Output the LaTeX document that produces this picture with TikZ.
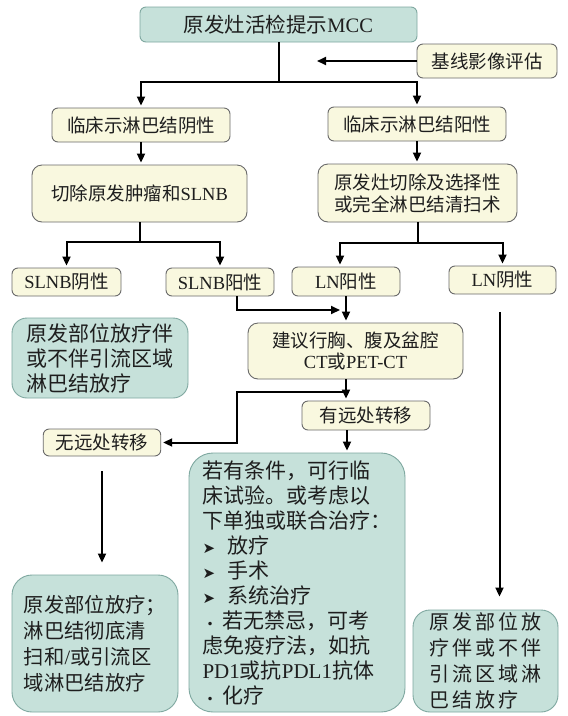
\documentclass[tikz,border=0pt]{standalone}
\usepackage{fontspec}
\usetikzlibrary{arrows.meta}
\IfFontExistsTF{FandolSong-Regular.otf}
  {\newfontfamily\cjk{FandolSong-Regular.otf}}
  {\newfontfamily\cjk{Noto Sans CJK SC}}
\newfontfamily\lt{Liberation Serif}
\newfontfamily\dv{DejaVu Sans}
\definecolor{tealfill}{HTML}{C6E1DA}
\definecolor{tealline}{HTML}{7FA8A0}
\definecolor{creamfill}{HTML}{F9F8DF}
\definecolor{creamline}{HTML}{6A6A6A}
\definecolor{txt}{HTML}{1E1E1E}
\tikzset{
  fs/.style 2 args={font=\cjk\fontsize{#1}{#2}\selectfont},
  cbox/.style={draw=creamline, fill=creamfill, line width=0.9pt, rounded corners=6pt,
    inner sep=0pt, text=txt, align=center, fs={18.5}{22}},
  tbox/.style={draw=tealline, fill=tealfill, line width=0.9pt, rounded corners=#1,
    inner sep=0pt, text=txt},
  wire/.style={line width=2pt, black},
  arr/.style={wire, -{Triangle[length=9pt,width=8pt]}, shorten >=2pt},
}
\newcommand\pointer{{\dv\fontsize{15}{15}\selectfont ➤}\hspace{12pt}}
\newcommand\dotmark{\hspace{4pt}{\dv\fontsize{12}{12}\selectfont •}\hspace{9pt}}
\begin{document}
\begin{tikzpicture}[x=1pt,y=-1pt]
\useasboundingbox (0,0) rectangle (568,716);
\fill[white] (0,0) rectangle (568,716);

% nodes
\node[tbox=6pt, fs={20.5}{24}, minimum width=277pt, minimum height=35pt] (top) at (278.5,24.5) {原发灶活检提示{\lt MCC}};
\node[cbox, minimum width=140pt, minimum height=34pt] (base) at (487,61) {基线影像评估};
\node[cbox, minimum width=178pt, minimum height=34pt] (neg) at (141,125) {临床示淋巴结阴性};
\node[cbox, minimum width=178pt, minimum height=34pt] (pos) at (417,124) {临床示淋巴结阳性};
\node[cbox, rounded corners=10pt, minimum width=215pt, minimum height=57pt] (cut1) at (139.5,193.5) {切除原发肿瘤和{\lt SLNB}};
\node[cbox, rounded corners=10pt, minimum width=199pt, minimum height=58pt] (cut2) at (417.5,193) {原发灶切除及选择性\\或完全淋巴结清扫术};
\node[cbox, minimum width=109pt, minimum height=28pt] (slnbneg) at (66.5,282) {{\lt SLNB}阴性};
\node[cbox, minimum width=108pt, minimum height=28pt] (slnbpos) at (220,282) {{\lt SLNB}阳性};
\node[cbox, minimum width=108pt, minimum height=29pt] (lnpos) at (346,281.5) {{\lt LN}阳性};
\node[cbox, minimum width=107pt, minimum height=28pt] (lnneg) at (502.5,280) {{\lt LN}阴性};
\node[tbox=15pt, fs={21}{25}, align=left, minimum width=176pt, minimum height=80pt] (rt1) at (100,358) {原发部位放疗伴\\或不伴引流区域\\淋巴结放疗};
\node[cbox, rounded corners=10pt, fs={18.5}{21}, minimum width=215pt, minimum height=56pt] (ct) at (355.5,351) {建议行胸、腹及盆腔\\{\lt CT}或{\lt PET-CT}};
\node[cbox, minimum width=128pt, minimum height=29pt] (yes) at (366,415.5) {有远处转移};
\node[cbox, minimum width=117.5pt, minimum height=27pt] (no) at (102,442.5) {无远处转移};
\node[tbox=24pt, fs={21}{25}, align=left, minimum width=216pt, minimum height=259pt] (mid) at (297,582.5) {若有条件，可行临\\床试验。或考虑以\\下单独或联合治疗：\\\pointer 放疗\\\pointer 手术\\\pointer 系统治疗\\\dotmark 若无禁忌，可考\\虑免疫疗法，如抗\\{\lt PD1}或抗{\lt PDL1}抗体\\\dotmark 化疗};
\node[tbox=20pt, fs={20.3}{26}, align=left, minimum width=166pt, minimum height=137pt] (botl) at (95,643.5) {原发部位放疗；\\淋巴结彻底清\\扫和{\lt /}或引流区\\域淋巴结放疗};
\node[tbox=17pt, font={\cjk\addfontfeature{LetterSpace=16}\fontsize{20}{26}\selectfont}, align=left, minimum width=145pt, minimum height=102pt] (botr) at (485.5,661) {原发部位放\\疗伴或不伴\\引流区域淋\\巴结放疗};

% connectors
\coordinate (j1) at (278.5,82);
\draw[wire] (top.south) -- (j1);
\draw[arr] (j1) -| (neg.north);
\draw[arr] (j1) -| (pos.north);
\coordinate (bt) at (315,61);
\draw[arr] (base.west) -- (bt);
\draw[arr] (neg.south) -- (neg.south |- cut1.north);
\draw[arr] (pos.south) -- (pos.south |- cut2.north);
\coordinate (j2) at (139.5,242);
\draw[wire] (cut1.south) -- (j2);
\draw[arr] (j2) -| (slnbneg.north);
\draw[arr] (j2) -| (slnbpos.north);
\coordinate (j3) at (417.5,243);
\draw[wire] (cut2.south) -- (j3);
\draw[arr] (j3) -| ([xshift=-6pt]lnpos.north);
\draw[arr] (j3) -| (lnneg.north);
\coordinate (k1) at (342,310);
\draw[arr] ([xshift=17pt]slnbpos.south) |- (k1);
\draw[arr] (lnpos.south) -- (lnpos.south |- ct.north);
\coordinate (c1) at (346,392);
\coordinate (c2) at (237,392);
\draw[wire] (c1 |- ct.south) -- (c1);
\draw[arr] (c1) -- (c1 |- yes.north);
\draw[arr] (c1) -- (c2) |- (no.east);
\coordinate (xm) at (347,0);
\draw[arr] (yes.south -| xm) -- (mid.north -| xm);
\draw[arr, shorten <=15pt, shorten >=12pt] (no.south) -- (no.south |- botl.north);
\draw[arr, shorten <=18pt, shorten >=13pt] ([xshift=-3pt]lnneg.south) -- ([xshift=-3pt]lnneg.south |- botr.north);
\end{tikzpicture}
\end{document}
